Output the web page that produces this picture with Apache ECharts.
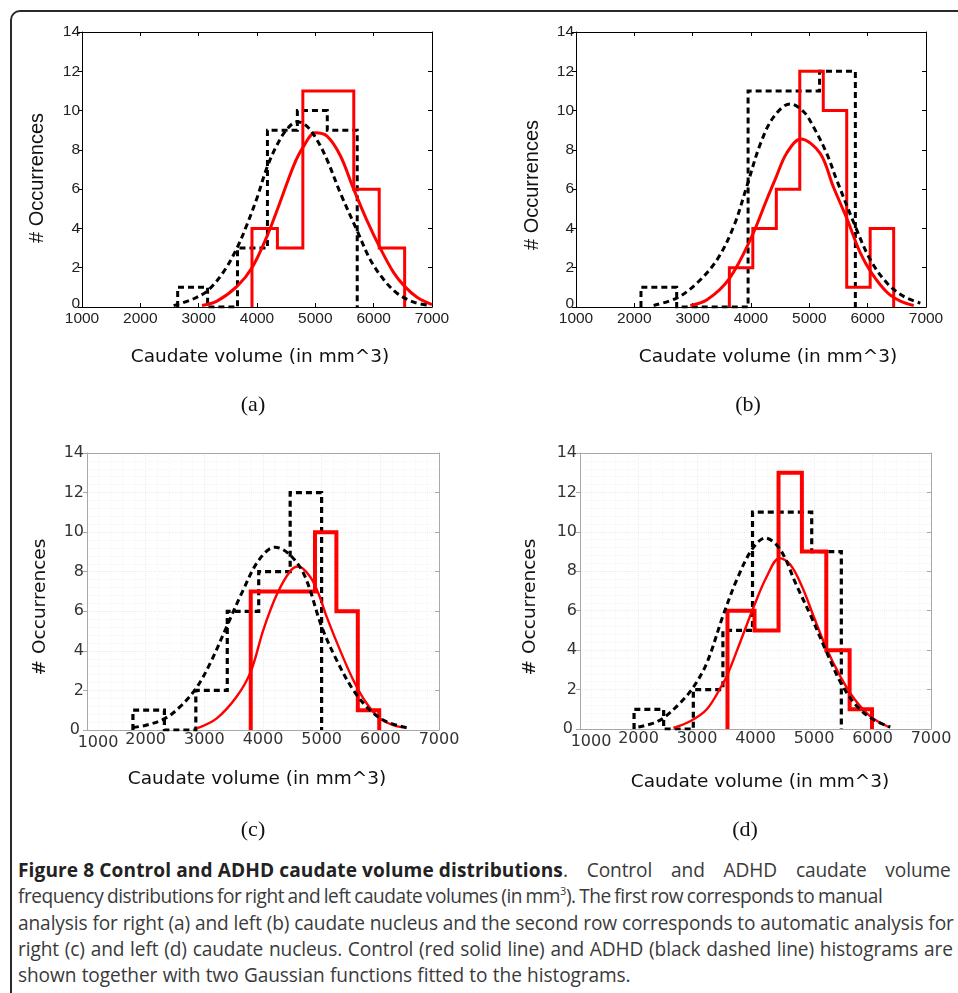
<!DOCTYPE html>
<html>
<head>
<meta charset="utf-8">
<script src="https://cdn.jsdelivr.net/npm/echarts@6/dist/echarts.min.js"></script>
<style>
  html, body { margin: 0; padding: 0; background: #fff; width: 958px; height: 993px; overflow: hidden; }
  #frame { position: absolute; left: 10px; top: 10px; width: 980px; height: 1010px; border: 2px solid #2a2a2a; border-radius: 10px; box-sizing: border-box; }
  #chart { position: absolute; left: 0; top: 0; width: 958px; height: 993px; }
  #caption { position: absolute; left: 18px; top: 857px; font-family: "Open Sans", sans-serif; font-size: 19.1px; line-height: 26.3px; color: #3a3a3a; white-space: nowrap; letter-spacing: -0.1px; }
  #caption b { color: #222; letter-spacing: 0.1px; }
  #caption sup { font-size: 11px; line-height: 0; vertical-align: 8px; }
  #l1 .rest { word-spacing: 14px; }
  #l2 { letter-spacing: -0.45px; word-spacing: -1px; }
  #l4 { word-spacing: 0.9px; }
  #l5 { word-spacing: 0.5px; }
</style>
</head>
<body>
<div id="frame"></div>
<div id="caption">
  <div id="l1"><b>Figure 8 Control and ADHD caudate volume distributions</b><span class="rest">. Control and ADHD caudate volume</span></div>
  <div id="l2">frequency distributions for right and left caudate volumes (in mm<sup>3</sup>). The first row corresponds to manual</div>
  <div id="l3">analysis for right (a) and left (b) caudate nucleus and the second row corresponds to automatic analysis for</div>
  <div id="l4">right (c) and left (d) caudate nucleus. Control (red solid line) and ADHD (black dashed line) histograms are</div>
  <div id="l5">shown together with two Gaussian functions fitted to the histograms.</div>
</div>
<div id="chart"></div>
<script>
// ---------- axis ticks ----------
const xTickValues = [1000, 2000, 3000, 4000, 5000, 6000, 7000];
const yTickValues = [0, 2, 4, 6, 8, 10, 12, 14];

// ---------- texts ----------
const panelLabels = ['(a)', '(b)', '(c)', '(d)'];
const xAxisTitle = 'Caudate volume (in mm^3)';
const yAxisTitle = '# Occurrences';

// ---------- (a) right caudate, manual ----------
const aCtrlEdges = [3914, 4350, 4786, 5222, 5659, 6095, 6531];
const aCtrlCounts = [4, 3, 11, 11, 6, 3];
const aAdhdEdges = [2640, 3153, 3666, 4179, 4692, 5205, 5718];
const aAdhdCounts = [1, 0, 3, 9, 10, 9];
const aCtrlFitX = [3057, 3314, 3657, 3914, 4171, 4354, 4629, 4783, 5000, 5200, 5429, 5657, 5886, 6103, 6343, 6531, 6743, 7000];
const aCtrlFitY = [0.08, 0.3, 1.05, 2.0, 3.6, 5.0, 7.2, 8.1, 8.87, 8.7, 7.7, 6.0, 4.4, 3.05, 1.75, 1.05, 0.5, 0.12];
const aAdhdFitX = [2571, 2914, 3160, 3429, 3657, 3829, 4000, 4171, 4343, 4514, 4686, 4857, 5029, 5200, 5429, 5714, 5943, 6171, 6400, 6686, 6971];
const aAdhdFitY = [0.07, 0.42, 0.85, 1.8, 3.0, 4.2, 5.55, 7.1, 8.25, 9.05, 9.43, 9.2, 8.5, 7.5, 5.8, 3.9, 2.4, 1.4, 0.7, 0.25, 0.07];

// ---------- (b) left caudate, manual ----------
const bCtrlEdges = [3629, 4031, 4434, 4836, 5239, 5641, 6043, 6446];
const bCtrlCounts = [2, 4, 6, 12, 10, 1, 4];
const bAdhdEdges = [2114, 2726, 3338, 3950, 4563, 5175, 5789];
const bAdhdCounts = [1, 0, 0, 11, 11, 12];
const bCtrlFitX = [2960, 3246, 3629, 4000, 4274, 4429, 4611, 4852, 5183, 5411, 5657, 5874, 6063, 6331, 6560, 6789];
const bCtrlFitY = [0.08, 0.37, 1.45, 3.5, 5.5, 6.6, 7.83, 8.55, 7.83, 6.12, 4.4, 2.75, 1.75, 0.75, 0.3, 0.08];
const bAdhdFitX = [2331, 2731, 3074, 3417, 3703, 3926, 4160, 4389, 4669, 4903, 5069, 5297, 5469, 5789, 6046, 6331, 6617, 6903];
const bAdhdFitY = [0.08, 0.46, 1.22, 2.4, 4.1, 6.12, 8.3, 9.68, 10.34, 9.94, 9.18, 7.83, 6.47, 4.1, 2.4, 1.22, 0.54, 0.2];

// ---------- (c) right caudate, automatic ----------
const cCtrlEdges = [3791, 4156, 4521, 4886, 5251, 5616, 5981];
const cCtrlCounts = [7, 7, 7, 10, 6, 1];
const cAdhdEdges = [1783, 2319, 2855, 3391, 3927, 4463, 4999];
const cAdhdCounts = [1, 0, 2, 6, 8, 12];
const cCtrlFitX = [2872, 3212, 3552, 3791, 4006, 4233, 4460, 4602, 4800, 4942, 5084, 5311, 5538, 5765, 5991, 6218, 6388];
const cCtrlFitY = [0.08, 0.59, 1.69, 2.95, 5.06, 6.83, 8.01, 8.26, 7.76, 6.92, 5.73, 4.05, 2.53, 1.35, 0.59, 0.25, 0.13];
const cAdhdFitX = [1783, 2021, 2333, 2588, 2860, 3099, 3382, 3638, 3932, 4205, 4460, 4715, 4999, 5254, 5538, 5821, 6105, 6502];
const cAdhdFitY = [0.13, 0.25, 0.59, 1.18, 2.11, 3.37, 5.23, 6.92, 8.6, 9.24, 8.85, 7.76, 5.23, 3.54, 2.02, 1.01, 0.42, 0.08];

// ---------- (d) left caudate, automatic ----------
const dCtrlEdges = [3521, 3983, 4394, 4793, 5210, 5609, 5991];
const dCtrlCounts = [6, 5, 13, 9, 4, 1];
const dAdhdEdges = [1924, 2430, 2937, 3443, 3949, 4455, 4961, 5467];
const dAdhdCounts = [1, 0, 2, 5, 11, 11, 9];
const dCtrlFitX = [2597, 2882, 3168, 3442, 3521, 3738, 3983, 4195, 4411, 4594, 4793, 4993, 5210, 5450, 5678, 5963, 6277];
const dCtrlFitY = [0.05, 0.39, 1.0, 2.3, 2.75, 4.4, 6.3, 7.75, 8.67, 8.34, 7.24, 5.72, 4.11, 2.67, 1.57, 0.64, 0.1];
const dAdhdFitX = [1998, 2255, 2426, 2711, 2928, 3168, 3442, 3681, 3938, 4166, 4423, 4708, 4948, 5221, 5461, 5735, 6020, 6305];
const dAdhdFitY = [0.1, 0.3, 0.56, 1.32, 2.08, 3.35, 5.72, 7.58, 9.1, 9.69, 9.1, 7.24, 5.72, 3.86, 2.33, 1.15, 0.47, 0.1];

// ---------- helpers ----------
function stairs(edges, counts) {
  const pts = [[edges[0], 0]];
  for (let i = 0; i < counts.length; i++) {
    pts.push([edges[i], counts[i]]);
    pts.push([edges[i + 1], counts[i]]);
  }
  pts.push([edges[edges.length - 1], 0]);
  return pts;
}
function pairs(xs, ys) { return xs.map((x, i) => [x, ys[i]]); }

const panels = [
  { grid: { left: 82, top: 32, width: 350, height: 275 }, style: 'matlab',
    ctrlH: stairs(aCtrlEdges, aCtrlCounts), adhdH: stairs(aAdhdEdges, aAdhdCounts),
    ctrlF: pairs(aCtrlFitX, aCtrlFitY), adhdF: pairs(aAdhdFitX, aAdhdFitY),
    xName: [260, 357], yName: [37, 178], sub: [253, 405] },
  { grid: { left: 576, top: 32, width: 350, height: 275 }, style: 'matlab',
    ctrlH: stairs(bCtrlEdges, bCtrlCounts), adhdH: stairs(bAdhdEdges, bAdhdCounts),
    ctrlF: pairs(bCtrlFitX, bCtrlFitY), adhdF: pairs(bAdhdFitX, bAdhdFitY),
    xName: [768, 357], yName: [532, 185], sub: [748, 405] },
  { grid: { left: 87, top: 453, width: 352, height: 277 }, style: 'auto',
    ctrlH: stairs(cCtrlEdges, cCtrlCounts), adhdH: stairs(cAdhdEdges, cAdhdCounts),
    ctrlF: pairs(cCtrlFitX, cCtrlFitY), adhdF: pairs(cAdhdFitX, cAdhdFitY),
    xName: [257, 779], yName: [40, 607], sub: [253, 830] },
  { grid: { left: 580, top: 453, width: 351, height: 276 }, style: 'auto',
    ctrlH: stairs(dCtrlEdges, dCtrlCounts), adhdH: stairs(dAdhdEdges, dAdhdCounts),
    ctrlF: pairs(dCtrlFitX, dCtrlFitY), adhdF: pairs(dAdhdFitX, dAdhdFitY),
    xName: [760, 782], yName: [530, 607], sub: [745, 830] }
];

const grids = [], xAxes = [], yAxes = [], series = [], graphics = [];

panels.forEach((p, i) => {
  const m = p.style === 'matlab';
  const lineColor = m ? '#000' : '#a8a8a8';
  const labelColor = m ? '#222' : '#333';
  const labelFont = m ? 'Liberation Sans' : 'DejaVu Sans';
  const labelSize = m ? 15.5 : 16;
  grids.push(Object.assign({ containLabel: false }, p.grid));
  const xBase = { type: 'value', gridIndex: i, min: xTickValues[0], max: xTickValues[xTickValues.length - 1], interval: 1000 };
  const yBase = { type: 'value', gridIndex: i, min: yTickValues[0], max: yTickValues[yTickValues.length - 1], interval: 2 };
  xAxes.push(Object.assign({}, xBase, {
    position: 'bottom',
    axisLine: { show: true, onZero: false, lineStyle: { color: lineColor, width: 1 } },
    axisTick: { show: m, inside: true, length: 4, lineStyle: { color: lineColor } },
    axisLabel: {
      show: true, color: labelColor, fontFamily: labelFont, fontSize: labelSize, margin: m ? 4 : 2,
      formatter: v => (!m && v === 1000) ? '{f|1000}' : String(v),
      rich: { f: { fontFamily: labelFont, fontSize: labelSize, color: labelColor, padding: [3, 0, 0, 22] } }
    },
    splitLine: { show: !m, lineStyle: { color: '#ececec', type: 'dotted', width: 1 } },
    minorTick: { show: false },
    minorSplitLine: { show: !m, lineStyle: { color: '#f4f4f4', type: 'dotted', width: 1 } }
  }));
  xAxes.push(Object.assign({}, xBase, {
    position: 'top',
    axisLine: { show: true, onZero: false, lineStyle: { color: lineColor, width: 1 } },
    axisTick: { show: m, inside: true, length: 4, lineStyle: { color: lineColor } },
    axisLabel: { show: false }, splitLine: { show: false }
  }));
  yAxes.push(Object.assign({}, yBase, {
    position: 'left',
    axisLine: { show: true, onZero: false, lineStyle: { color: lineColor, width: 1 } },
    axisTick: { show: true, inside: false, length: 4, lineStyle: { color: lineColor } },
    axisLabel: {
      show: true, color: labelColor, fontFamily: labelFont, fontSize: labelSize, margin: m ? 2 : 3,
      formatter: v => (v === 0) ? '{z|0}' : String(v),
      rich: { z: { fontFamily: labelFont, fontSize: labelSize, color: labelColor, padding: m ? [0, 0, 6, 0] : [0, 4, 0, 0] } }
    },
    splitLine: { show: !m, lineStyle: { color: '#ececec', type: 'dotted', width: 1 } },
    minorSplitLine: { show: !m, lineStyle: { color: '#f4f4f4', type: 'dotted', width: 1 } }
  }));
  yAxes.push(Object.assign({}, yBase, {
    position: 'right',
    axisLine: { show: true, onZero: false, lineStyle: { color: lineColor, width: 1 } },
    axisTick: { show: true, inside: true, length: 4, lineStyle: { color: lineColor } },
    axisLabel: { show: false }, splitLine: { show: false }
  }));

  const xi = 2 * i, yi = 2 * i;
  const common = { type: 'line', xAxisIndex: xi, yAxisIndex: yi, symbol: 'none', showSymbol: false, animation: false, silent: true };
  series.push(Object.assign({}, common, { name: 'ADHD hist', data: p.adhdH,
    lineStyle: { color: '#000', width: m ? 3 : 3.2, type: [6, 4], cap: 'butt', join: 'miter' } }));
  series.push(Object.assign({}, common, { name: 'Control hist', data: p.ctrlH,
    lineStyle: { color: '#ff0000', width: m ? 3 : 4, join: 'miter' } }));
  series.push(Object.assign({}, common, { name: 'Control fit', data: p.ctrlF, smooth: 0.35,
    lineStyle: { color: '#ff0000', width: m ? 3 : 2.4 } }));
  series.push(Object.assign({}, common, { name: 'ADHD fit', data: p.adhdF, smooth: 0.35,
    lineStyle: { color: '#000', width: 3, type: [6, 4], cap: 'butt' } }));

  graphics.push({ type: 'text', x: p.xName[0], y: p.xName[1], silent: true,
    style: { text: xAxisTitle, font: '18.5px "DejaVu Sans"', fill: '#111', align: 'center', verticalAlign: 'middle', textAlign: 'center', textVerticalAlign: 'middle' } });
  graphics.push({ type: 'text', x: p.yName[0], y: p.yName[1], rotation: Math.PI / 2, silent: true,
    style: { text: yAxisTitle, font: m ? '20px "Liberation Sans"' : '18.5px "DejaVu Sans"', fill: '#111', align: 'center', verticalAlign: 'middle', textAlign: 'center', textVerticalAlign: 'middle' } });
  graphics.push({ type: 'text', x: p.sub[0], y: p.sub[1], silent: true,
    style: { text: panelLabels[i], font: '22px "Liberation Serif"', fill: '#111', align: 'center', verticalAlign: 'middle', textAlign: 'center', textVerticalAlign: 'middle' } });
});

const chart = echarts.init(document.getElementById('chart'), null, { renderer: 'canvas' });
chart.setOption({
  backgroundColor: 'transparent',
  animation: false,
  grid: grids,
  xAxis: xAxes,
  yAxis: yAxes,
  series: series,
  graphic: { elements: graphics }
});
</script>
</body>
</html>
